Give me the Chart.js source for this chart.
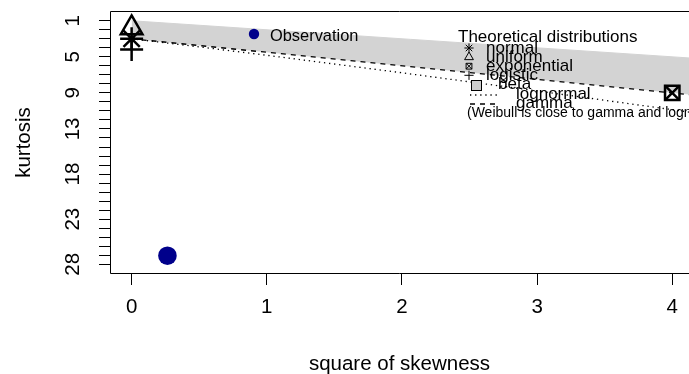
<!DOCTYPE html>
<html>
<head>
<meta charset="utf-8">
<title>Cullen and Frey graph</title>
<script src="https://cdn.jsdelivr.net/npm/chart.js@4.4.1/dist/chart.umd.min.js"></script>
<style>
    html, body { margin: 0; padding: 0; background: #fff; }
    #wrap { width: 689px; height: 374px; position: relative; }
</style>
</head>
<body>
<div id="wrap"><canvas id="cullenFrey"></canvas></div>
<script>
// Cullen and Frey graph (square of skewness vs kurtosis)

// Observation
const obsSkew2 = [0.265];
const obsKurt = [27.05];

// Theoretical points: normal, uniform, exponential, logistic
const theoNames = ['normal', 'uniform', 'exponential', 'logistic'];
const theoSkew2 = [0, 0, 4, 0];
const theoKurt = [3, 1.8, 9, 4.2];

// Upper limit of the beta area (lower limit is the gamma line)
const betaSkew2 = [0, 4.2];
const betaKurt = [1, 5.2];

// Gamma line
const gammaSkew2 = [0, 4.2];
const gammaKurt = [3, 9.3];

// Lognormal curve
const lnormSkew2 = [0, 0.5, 1, 2, 3, 4, 4.2];
const lnormKurt = [3, 3.9, 4.83, 6.77, 8.78, 10.86, 11.3];

// Axes
const xTickValues = [0, 1, 2, 3, 4];
const yTickValues = [1, 2, 3, 4, 5, 6, 7, 8, 9, 10, 11, 12, 13, 14, 15, 16, 17, 18, 19, 20, 21, 22, 23, 24, 25, 26, 27, 28];
const yTickLabels = [1, 5, 9, 13, 18, 23, 28];

const FONT = '"Liberation Sans", Arial, sans-serif';

function toPoints(xs, ys) {
    return xs.map((x, i) => ({ x: x, y: ys[i] }));
}

function markerDataset(idx, style, radius) {
    return {
        label: theoNames[idx],
        data: [{ x: theoSkew2[idx], y: theoKurt[idx] }],
        pointStyle: style,
        pointRadius: radius,
        pointBorderColor: '#000',
        pointBackgroundColor: 'rgba(0,0,0,0)',
        pointBorderWidth: 2.5,
        order: 1
    };
}

// Box (the right side falls outside the picture), legends
const boxAndLegend = {
    id: 'boxAndLegend',
    afterDraw(chart) {
        const ctx = chart.ctx;
        const a = chart.chartArea;
        ctx.save();

        // plot box: left, top, bottom
        ctx.strokeStyle = '#000';
        ctx.lineWidth = 1;
        ctx.beginPath();
        ctx.moveTo(chart.width, a.top + 0.5);
        ctx.lineTo(a.left + 0.5, a.top + 0.5);
        ctx.lineTo(a.left + 0.5, a.bottom - 0.5);
        ctx.lineTo(chart.width, a.bottom - 0.5);
        ctx.stroke();

        const drawPoint = Chart.helpers.drawPoint;
        ctx.textBaseline = 'alphabetic';
        ctx.textAlign = 'left';

        // observation legend
        ctx.fillStyle = '#00008B';
        ctx.strokeStyle = '#00008B';
        drawPoint(ctx, { pointStyle: 'circle', radius: 5.2, borderWidth: 0 }, 254, 34);
        ctx.fillStyle = '#000';
        ctx.font = '16.4px ' + FONT;
        ctx.fillText('Observation', 270, 41);

        // theoretical distributions legend
        ctx.font = '17px ' + FONT;
        ctx.fillText('Theoretical distributions', 458, 42);

        const baseY = [53, 62.1, 71.2, 80.3, 89.4, 98.5, 107.6];
        ctx.strokeStyle = '#000';
        ctx.fillStyle = 'rgba(0,0,0,0)';
        const lw = 1.3;
        drawPoint(ctx, { pointStyle: 'star', radius: 4.6, borderWidth: lw }, 469, baseY[0] - 5);
        drawPoint(ctx, { pointStyle: 'triangle', radius: 5.1, borderWidth: lw }, 469, baseY[1] - 5);
        drawPoint(ctx, { pointStyle: 'rect', radius: 4.1, borderWidth: lw }, 469, baseY[2] - 5);
        drawPoint(ctx, { pointStyle: 'crossRot', radius: 4.1, borderWidth: lw }, 469, baseY[2] - 5);
        drawPoint(ctx, { pointStyle: 'cross', radius: 4.6, borderWidth: lw }, 469, baseY[3] - 5);

        // beta box
        ctx.fillStyle = '#CCCCCC';
        ctx.fillRect(471, 80, 11, 11);
        ctx.lineWidth = 1;
        ctx.strokeRect(471.5, 80.5, 10, 10);

        // lognormal / gamma line keys
        ctx.lineWidth = lw;
        ctx.setLineDash([1.3, 3.8]);
        ctx.beginPath();
        ctx.moveTo(470, 95);
        ctx.lineTo(497, 95);
        ctx.stroke();
        ctx.setLineDash([5, 5]);
        ctx.beginPath();
        ctx.moveTo(470, 104);
        ctx.lineTo(497, 104);
        ctx.stroke();
        ctx.setLineDash([]);

        ctx.fillStyle = '#000';
        for (let i = 0; i < 4; i++) {
            ctx.fillText(theoNames[i], 486, baseY[i]);
        }
        ctx.fillText('beta', 498, baseY[4]);
        ctx.fillText('lognormal', 516, baseY[5]);
        ctx.fillText('gamma', 516, baseY[6]);

        ctx.font = '14px ' + FONT;
        ctx.fillText('(Weibull is close to gamma and lognormal)', 467, 117);

        ctx.restore();
    }
};

const axisFont = { family: FONT, size: 20.5 };

new Chart(document.getElementById('cullenFrey'), {
    type: 'scatter',
    data: {
        datasets: [
            {
                label: 'beta',
                data: toPoints(betaSkew2, betaKurt),
                showLine: true,
                borderColor: '#D3D3D3',
                borderWidth: 1,
                backgroundColor: '#D3D3D3',
                pointRadius: 0,
                fill: 1,
                order: 10
            },
            {
                label: 'gamma',
                data: toPoints(gammaSkew2, gammaKurt),
                showLine: true,
                borderColor: '#000',
                borderWidth: 1.3,
                borderDash: [5, 5],
                pointRadius: 0,
                fill: false,
                order: 9
            },
            {
                label: 'lognormal',
                data: toPoints(lnormSkew2, lnormKurt),
                showLine: true,
                borderColor: '#000',
                borderWidth: 1.3,
                borderDash: [1.3, 3.8],
                pointRadius: 0,
                fill: false,
                order: 8
            },
            markerDataset(0, 'star', 11.5),
            markerDataset(1, 'triangle', 12.5),
            markerDataset(2, 'rect', 10.2),
            markerDataset(2, 'crossRot', 10.2),
            markerDataset(3, 'cross', 11.5),
            {
                label: 'Observation',
                data: toPoints(obsSkew2, obsKurt),
                pointStyle: 'circle',
                pointRadius: 9.3,
                pointBackgroundColor: '#00008B',
                pointBorderWidth: 0,
                order: 0
            }
        ]
    },
    options: {
        responsive: true,
        maintainAspectRatio: false,
        animation: false,
        layout: { autoPadding: false, padding: { top: 11, right: 0, bottom: 0, left: 0 } },
        plugins: {
            legend: { display: false },
            tooltip: { enabled: false }
        },
        scales: {
            x: {
                type: 'linear',
                min: -0.16,
                max: 4.124,
                afterBuildTicks: (s) => { s.ticks = xTickValues.map(v => ({ value: v })); },
                afterFit: (s) => { s.height = 100; s.paddingLeft = 0; s.paddingRight = 0; },
                ticks: {
                    autoSkip: false,
                    maxRotation: 0,
                    padding: 10,
                    color: '#000',
                    font: axisFont,
                    callback: (v) => String(v)
                },
                grid: { drawOnChartArea: false, drawTicks: true, tickLength: 11, color: '#000', lineWidth: 1 },
                border: { display: false },
                title: {
                    display: true,
                    text: 'square of skewness',
                    color: '#000',
                    font: axisFont,
                    padding: { top: 0, bottom: -3 }
                }
            },
            y: {
                type: 'linear',
                reverse: true,
                min: -0.08,
                max: 29.08,
                afterBuildTicks: (s) => { s.ticks = yTickValues.map(v => ({ value: v })); },
                afterFit: (s) => { s.width = 110; s.paddingTop = 0; s.paddingBottom = 0; },
                ticks: {
                    autoSkip: false,
                    minRotation: 90,
                    maxRotation: 90,
                    crossAlign: 'center',
                    padding: 14,
                    color: '#000',
                    font: axisFont,
                    callback: (v) => yTickLabels.includes(v) ? String(v) : ''
                },
                grid: { drawOnChartArea: false, drawTicks: true, tickLength: 11, color: '#000', lineWidth: 1 },
                border: { display: false },
                title: {
                    display: true,
                    text: 'kurtosis',
                    color: '#000',
                    font: axisFont,
                    padding: { top: 12, bottom: 0 }
                }
            }
        }
    },
    plugins: [boxAndLegend]
});
</script>
</body>
</html>
